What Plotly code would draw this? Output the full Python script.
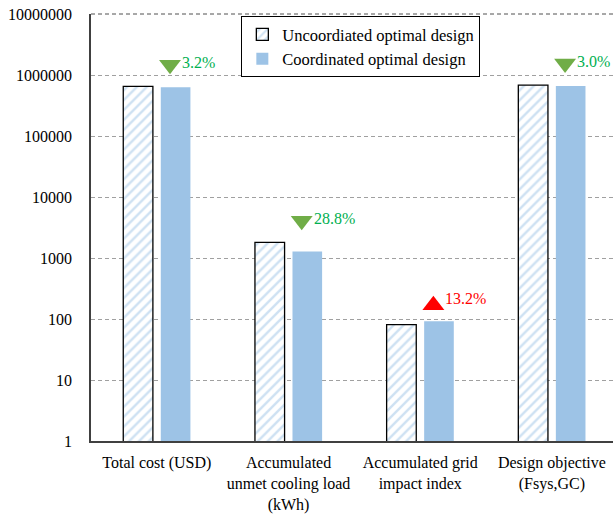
import numpy as np
import plotly.graph_objects as go

# Categories (x axis) and the two design results
categories = [
    "Total cost (USD)",
    "Accumulated<br>unmet cooling load<br>(kWh)",
    "Accumulated grid<br>impact index",
    "Design objective<br>(Fsys,GC)",
]
uncoordinated = [650000, 1800, 81, 680000]
coordinated = [629200, 1282, 91.7, 659600]
change_labels = ["3.2%", "28.8%", "13.2%", "3.0%"]

y_tickvals = [1, 10, 100, 1000, 10000, 100000, 1000000, 10000000]
y_ticktext = ["1", "10", "100", "1000", "10000", "100000", "1000000", "10000000"]

FONT = "Liberation Serif"
LIGHT_BLUE = "#9DC3E6"
GREEN_MARK = "#70AD47"
GREEN_TEXT = "#00B050"
RED = "#FF0000"
GRID = "#A0A0A0"

x_pos = np.arange(len(categories))
bar_w = 0.225

fig = go.Figure()

fig.add_trace(go.Bar(
    x=x_pos, y=uncoordinated, name="Uncoordiated optimal design",
    width=bar_w, offset=-0.255,
    marker=dict(
        color="white",
        line=dict(color="black", width=1.3),
        pattern=dict(shape="/", fgcolor=LIGHT_BLUE, bgcolor="white",
                     size=7, solidity=0.35),
    ),
))
fig.add_trace(go.Bar(
    x=x_pos, y=coordinated, name="Coordinated optimal design",
    width=bar_w, offset=0.03,
    marker=dict(color=LIGHT_BLUE, line=dict(width=0)),
))

# Change markers: down (green) when the coordinated design is lower, up (red) otherwise
for i, (u, c, lab) in enumerate(zip(uncoordinated, coordinated, change_labels)):
    up = c > u
    ymark = max(u, c) * (1.84 if up else 2.26)
    fig.add_trace(go.Scatter(
        x=[i + 0.1], y=[ymark], mode="markers", showlegend=False,
        hoverinfo="skip", cliponaxis=False,
        marker=dict(symbol="triangle-up" if up else "triangle-down",
                    size=19, color=RED if up else GREEN_MARK,
                    line=dict(width=0)),
    ))
    fig.add_annotation(
        x=i + 0.1, y=np.log10(ymark), text=lab, showarrow=False,
        xanchor="left", xshift=10, yshift=6.5 if up else 2.5,
        font=dict(family=FONT, size=16, color=RED if up else GREEN_TEXT),
    )

# Dashed top border at the upper end of the value axis
fig.add_shape(type="line", xref="paper", yref="paper", x0=0, x1=1, y0=1, y1=1,
              line=dict(color="#505050", width=1, dash="4px,3px"))

fig.update_layout(
    width=613, height=514,
    margin=dict(l=91, r=0, t=14, b=71),
    paper_bgcolor="white", plot_bgcolor="white",
    font=dict(family=FONT, size=16, color="black"),
    barmode="overlay",
    showlegend=True,
    legend=dict(
        x=0.288, y=0.995, xanchor="left", yanchor="top",
        bgcolor="white", bordercolor="black", borderwidth=1,
        font=dict(family=FONT, size=16.5, color="black"),
        tracegroupgap=0, itemwidth=30,
    ),
    xaxis=dict(
        range=[-0.5, 3.464], tickmode="array", tickvals=x_pos,
        ticktext=categories, showgrid=False, zeroline=False,
        showline=True, linecolor="#404040", linewidth=1.5,
        ticks="", ticklabelstandoff=6,
    ),
    yaxis=dict(
        type="log", range=[0, 7], tickmode="array",
        tickvals=y_tickvals, ticktext=y_ticktext,
        showgrid=True, gridcolor=GRID, griddash="4px,3px", gridwidth=1,
        zeroline=False, showline=True, linecolor="#404040", linewidth=1.5,
        ticks="", ticklabelstandoff=14,
    ),
)

fig.write_html("out.html")
